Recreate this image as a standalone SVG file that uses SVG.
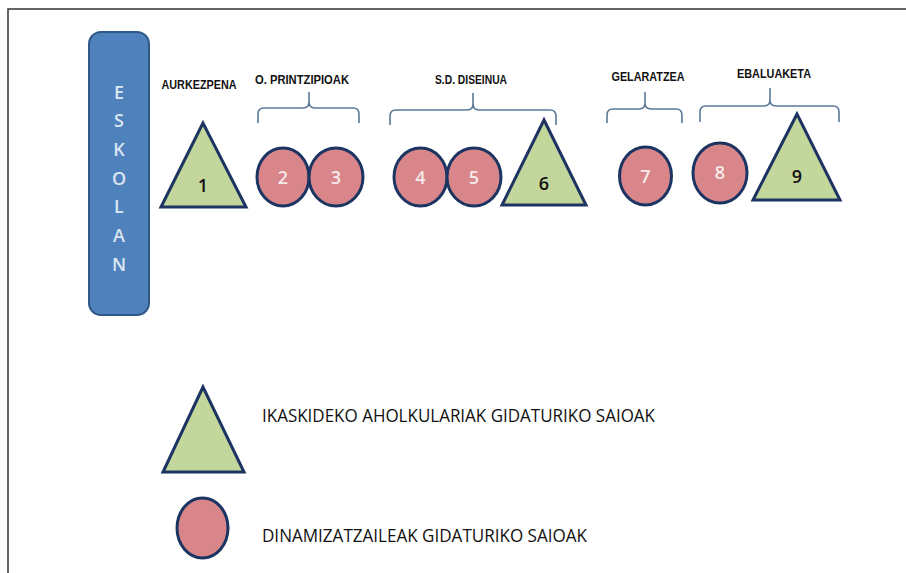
<svg xmlns="http://www.w3.org/2000/svg" width="906" height="573" viewBox="0 0 906 573">
  <style>
    .tri { fill: #c3d69b; stroke: #1c3461; stroke-width: 3; stroke-linejoin: miter; }
    .cir { fill: #d9868b; stroke: #1c3461; stroke-width: 3; }
    .brace { fill: none; stroke: #5b7896; stroke-width: 1.6; }
    .head { font-family: "Liberation Sans", Arial, sans-serif; font-size: 12px; font-weight: bold; fill: #111; text-anchor: middle; dominant-baseline: central; }
    .num-t { font-family: "Open Sans", "Liberation Sans", sans-serif; font-size: 18px; font-weight: 600; fill: #111; text-anchor: middle; dominant-baseline: central; }
    .num-c { font-family: "Open Sans", "Liberation Sans", sans-serif; font-size: 18px; font-weight: 600; fill: #f6eaea; text-anchor: middle; dominant-baseline: central; }
    .vert { font-family: "Open Sans", "Liberation Sans", sans-serif; font-size: 18px; font-weight: 600; fill: #dce6f2; text-anchor: middle; dominant-baseline: central; }
    .legend { font-family: "Open Sans", "Liberation Sans", sans-serif; font-size: 18px; fill: #111; dominant-baseline: central; }
  </style>

  <rect width="906" height="573" fill="#ffffff"/>
  <!-- frame -->
  <path d="M8 573 V9 H906" fill="none" stroke="#333" stroke-width="1.5"/>

  <!-- vertical ESKOLAN bar -->
  <g id="eskolan">
    <rect x="89" y="32" width="60" height="283" rx="12" fill="#4f81bd" stroke="#2f5788" stroke-width="2"/>
    <text class="vert" x="119" y="92">E</text>
    <text class="vert" x="119" y="120">S</text>
    <text class="vert" x="119" y="149">K</text>
    <text class="vert" x="119" y="178">O</text>
    <text class="vert" x="119" y="206">L</text>
    <text class="vert" x="119" y="235">A</text>
    <text class="vert" x="119" y="264">N</text>
  </g>

  <!-- phase headings -->
  <g id="headings">
    <text class="head" x="199" y="85" textLength="75" lengthAdjust="spacingAndGlyphs">AURKEZPENA</text>
    <text class="head" x="302" y="80" textLength="94" lengthAdjust="spacingAndGlyphs">O. PRINTZIPIOAK</text>
    <text class="head" x="471" y="80" textLength="72" lengthAdjust="spacingAndGlyphs">S.D. DISEINUA</text>
    <text class="head" x="648" y="77" textLength="73" lengthAdjust="spacingAndGlyphs">GELARATZEA</text>
    <text class="head" x="774" y="74" textLength="74" lengthAdjust="spacingAndGlyphs">EBALUAKETA</text>
  </g>

  <!-- braces grouping the sessions -->
  <g id="connectors">
    <path class="brace" d="M258 123 V114 Q258 108 264 108 H303 Q309 108 309 102 V92 V102 Q309 108 315 108 H353 Q359 108 359 114 V123"/>
    <path class="brace" d="M390 125 V116 Q390 110 396 110 H467 Q473 110 473 104 V93 V104 Q473 110 479 110 H550 Q556 110 556 116 V125"/>
    <path class="brace" d="M607 123 V115 Q607 109 613 109 H639 Q645 109 645 103 V92 V103 Q645 109 651 109 H676 Q682 109 682 115 V123"/>
    <path class="brace" d="M700 122 V112 Q700 106 706 106 H764 Q770 106 770 100 V88 V100 Q770 106 776 106 H833 Q839 106 839 112 V122"/>
  </g>

  <!-- sessions -->
  <g id="s1">
    <polygon class="tri" points="203,123 161,207 246,207"/>
    <text class="num-t" x="203" y="185">1</text>
  </g>
  <g id="s2">
    <ellipse class="cir" cx="283" cy="177" rx="26" ry="29"/>
    <text class="num-c" x="283" y="177">2</text>
  </g>
  <g id="s3">
    <ellipse class="cir" cx="336" cy="177" rx="27" ry="29"/>
    <text class="num-c" x="336" y="177">3</text>
  </g>
  <g id="s4">
    <ellipse class="cir" cx="420.5" cy="177" rx="26.5" ry="29"/>
    <text class="num-c" x="420.5" y="177">4</text>
  </g>
  <g id="s5">
    <ellipse class="cir" cx="474" cy="177" rx="27" ry="29"/>
    <text class="num-c" x="474" y="177">5</text>
  </g>
  <g id="s6">
    <polygon class="tri" points="544,120 502,205 586,205"/>
    <text class="num-t" x="544" y="183">6</text>
  </g>
  <g id="s7">
    <ellipse class="cir" cx="645.5" cy="176" rx="26" ry="29"/>
    <text class="num-c" x="645.5" y="176">7</text>
  </g>
  <g id="s8">
    <ellipse class="cir" cx="720" cy="173" rx="27" ry="30"/>
    <text class="num-c" x="720" y="172">8</text>
  </g>
  <g id="s9">
    <polygon class="tri" points="797,114 753,200 840,200"/>
    <text class="num-t" x="797" y="176">9</text>
  </g>

  <!-- legend -->
  <g id="legend-triangle">
    <polygon class="tri" points="203,387 163,472 244,472"/>
    <text class="legend" x="262" y="415" textLength="393" lengthAdjust="spacingAndGlyphs">IKASKIDEKO AHOLKULARIAK GIDATURIKO SAIOAK</text>
  </g>
  <g id="legend-circle">
    <ellipse class="cir" cx="202.5" cy="528" rx="25.5" ry="30"/>
    <text class="legend" x="262" y="535" textLength="325" lengthAdjust="spacingAndGlyphs">DINAMIZATZAILEAK GIDATURIKO SAIOAK</text>
  </g>
</svg>
